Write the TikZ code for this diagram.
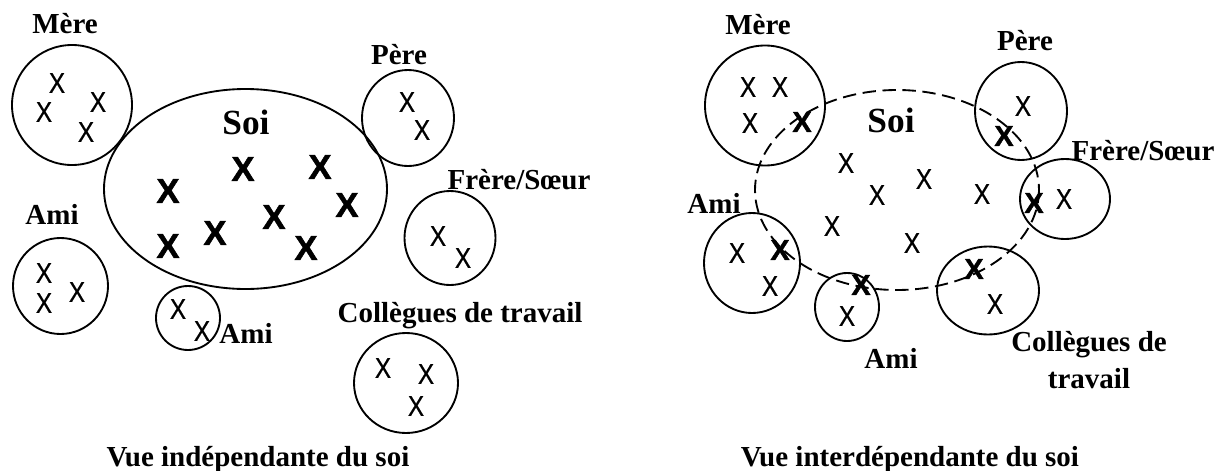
\documentclass[tikz,border=0pt]{standalone}
\usepackage{fontspec}
\setmainfont{Liberation Serif}
\setsansfont{Liberation Sans}
\newfontfamily\croixfont{Liberation Sans}[FakeBold=0.6]
\newfontfamily\croixgrasfont{Liberation Sans Bold}[FakeBold=1.5]
\usepackage{tikz}

\begin{document}
\begin{tikzpicture}[x=0.75pt, y=-0.75pt,
	titre/.style={inner sep=0pt, anchor=base, align=center, font=\fontsize{21.75}{27.75}\selectfont\bfseries},
	grandtitre/.style={titre, font=\fontsize{26.5}{30}\selectfont\bfseries},
	croix/.style={inner sep=0pt, xscale=.85, font=\fontsize{21.5}{21.5}\croixfont},
	croixdouble/.style={inner sep=0pt, font=\fontsize{21.5}{21.5}\croixgrasfont},
	croixgras/.style={inner sep=0pt, font=\fontsize{26}{26}\croixgrasfont},
	cercle/.style={line width=1.4pt},
	soi/.style={line width=1.4pt, dash pattern=on 10 off 5}]
	\useasboundingbox (0,0) rectangle (1224,471);
	% vue independante
	\draw [cercle] (72,105) circle (60);
	\draw [cercle] (245.5,189) ellipse (141.5 and 100);
	\draw [cercle] (408,118) ellipse (46 and 48);
	\draw [cercle] (450,238) ellipse (45.5 and 47);
	\draw [cercle] (406,383) ellipse (52 and 50);
	\draw [cercle] (188,318) circle (32);
	\draw [cercle] (60.5,286) ellipse (47.5 and 48);
	\node[titre] (mere-g) at (65,33) {Mère};
	\node[grandtitre] (soi-g) at (246,134) {Soi};
	\node[titre] (pere-g) at (399,64) {Père};
	\node[titre] (frere-g) at (519,189) {Frère/Sœur};
	\node[titre] (coll-g) at (460,322) {Collègues de travail};
	\node[titre] (ami-g) at (52,224) {Ami};
	\node[titre] (amib-g) at (246,343) {Ami};
	\node[titre] (vue-g) at (258,466) {Vue indépendante du soi};
	\foreach \p [count=\i] in {(57,83),(98,102),(44,112),(86,132),(407,102),(422,130),(438,236),(463,258),(383,368),(426,374),(416,406),(178,309),(202,331),(44,273),(44,303),(77,292)}
		\node[croix] (xg-\i) at \p {X};
	\foreach \p [count=\i] in {(168,191),(243,169),(320,167),(347,205),(274,217),(215,233),(168,246),(306,248)}
		\node[croixgras] (xs-\i) at \p {X};
	% vue interdependante
	\draw [cercle] (765,105.5) circle (60);
	\draw [cercle] (1021,111) ellipse (46 and 49);
	\draw [cercle] (1065,199) ellipse (45 and 40);
	\draw [cercle] (752,263) ellipse (48 and 50);
	\draw [cercle] (847,307) ellipse (32 and 34);
	\draw [cercle] (988,290.5) ellipse (51 and 44);
	\draw [soi] (897,190) ellipse (142 and 100);
	\node[titre] (mere-d) at (758,34) {Mère};
	\node[grandtitre] (soi-d) at (891,132) {Soi};
	\node[titre] (pere-d) at (1025,50) {Père};
	\node[titre] (frere-d) at (1143,160) {Frère/Sœur};
	\node[titre] (ami-d) at (714,213) {Ami};
	\node[titre] (amib-d) at (891,368) {Ami};
	\node[titre] (coll-d) at (1089,388) {Collègues de\\travail};
	\node[titre] (vue-d) at (910,466) {Vue interdépendante du soi};
	\foreach \p [count=\i] in {(748,87),(780,87),(750,123),(1023,106),(1064,199),(737,253),(770,286),(847,316),(995,304),(846,163),(877,195),(924,179),(982,194),(832,226),(912,243)}
		\node[croix] (xd-\i) at \p {X};
	\foreach \p [count=\i] in {(802,122),(1004,136),(1034,203),(780,250),(861,285),(974,269)}
		\node[croixdouble] (xb-\i) at \p {X};
\end{tikzpicture}
\end{document}
